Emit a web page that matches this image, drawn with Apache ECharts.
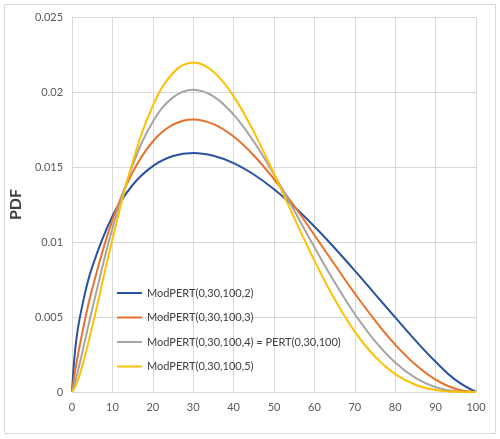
<!DOCTYPE html>
<html>
<head>
<meta charset="utf-8">
<script src="https://cdn.jsdelivr.net/npm/echarts@6/dist/echarts.min.js"></script>
<style>
  html, body { margin: 0; padding: 0; background: #fff; }
  #chart { width: 500px; height: 439px; }
</style>
</head>
<body>
<div id="chart"></div>
<script>
// x positions read along the horizontal axis
const xValues = [0, 1, 2.5, 5, 10, 15, 20, 25, 30, 35, 40, 45, 50, 55, 60, 65, 70, 75, 80, 85, 90, 95, 100];

// PDF values
const pdfGamma2 = [0, 0.00336, 0.00571, 0.00834, 0.01172, 0.01380, 0.01506, 0.01573, 0.01594, 0.01575, 0.01526, 0.01450, 0.01352, 0.01235, 0.01103, 0.00960, 0.00809, 0.00653, 0.00497, 0.00344, 0.00202, 0.00079, 0];
const pdfGamma3 = [0, 0.00176, 0.00389, 0.00688, 0.01146, 0.01464, 0.01670, 0.01782, 0.01817, 0.01786, 0.01703, 0.01577, 0.01419, 0.01240, 0.01047, 0.00850, 0.00657, 0.00477, 0.00316, 0.00183, 0.00082, 0.00020, 0];
const pdfGamma4 = [0, 0.00090, 0.00258, 0.00552, 0.01090, 0.01511, 0.01801, 0.01964, 0.02015, 0.01971, 0.01849, 0.01669, 0.01450, 0.01210, 0.00966, 0.00732, 0.00520, 0.00339, 0.00196, 0.00094, 0.00032, 0.00005, 0];
const pdfGamma5 = [0, 0.00045, 0.00169, 0.00435, 0.01018, 0.01532, 0.01907, 0.02127, 0.02196, 0.02135, 0.01971, 0.01734, 0.01455, 0.01161, 0.00876, 0.00619, 0.00403, 0.00236, 0.00119, 0.00048, 0.00013, 0.00001, 0];

const seriesNames = [
  'ModPERT(0,30,100,2)',
  'ModPERT(0,30,100,3)',
  'ModPERT(0,30,100,4) = PERT(0,30,100)',
  'ModPERT(0,30,100,5)'
];
const seriesColors = ['#2a52a0', '#e8722c', '#a5a5a5', '#ffc000'];
const seriesValues = [pdfGamma2, pdfGamma3, pdfGamma4, pdfGamma5];

const xTicks = { min: 0, max: 100, interval: 10 };
const yTicks = { min: 0, max: 0.025, interval: 0.005 };

const myChart = echarts.init(document.getElementById('chart'));

const font = 'Lato, "Open Sans", sans-serif';

const option = {
  animation: false,
  backgroundColor: '#fff',
  graphic: [{
    type: 'rect',
    shape: { x: 4.5, y: 4.5, width: 491, height: 429 },
    style: { fill: 'none', stroke: '#d9d9d9', lineWidth: 1 },
    silent: true
  }],
  grid: { left: 52, right: 24, top: 17, bottom: 47 },
  legend: {
    orient: 'vertical',
    left: 117,
    top: 286,
    padding: 0,
    itemWidth: 25,
    itemHeight: 2,
    itemGap: 10.5,
    icon: 'rect',
    data: seriesNames,
    textStyle: { fontFamily: font, fontSize: 11, color: '#404040', lineHeight: 14 }
  },
  xAxis: {
    type: 'value',
    min: xTicks.min,
    max: xTicks.max,
    interval: xTicks.interval,
    axisLine: { show: true, lineStyle: { color: '#d9d9d9' } },
    axisTick: { show: false },
    axisLabel: { fontFamily: font, fontSize: 11, color: '#595959', margin: 10 },
    splitLine: { show: true, lineStyle: { color: '#d9d9d9' } }
  },
  yAxis: {
    type: 'value',
    min: yTicks.min,
    max: yTicks.max,
    interval: yTicks.interval,
    name: 'PDF',
    nameLocation: 'middle',
    nameGap: 22,
    nameRotate: 90,
    nameTextStyle: { fontFamily: font, fontSize: 16, fontWeight: 'bold', color: '#404040' },
    axisLine: { show: true, lineStyle: { color: '#d9d9d9' } },
    axisTick: { show: false },
    axisLabel: { fontFamily: font, fontSize: 11, color: '#595959', margin: 9 },
    splitLine: { show: true, lineStyle: { color: '#d9d9d9' } }
  },
  series: seriesValues.map((vals, i) => ({
    name: seriesNames[i],
    type: 'line',
    smooth: 0.4,
    showSymbol: false,
    symbol: 'none',
    data: xValues.map((x, j) => [x, vals[j]]),
    lineStyle: { width: 2, color: seriesColors[i] },
    itemStyle: { color: seriesColors[i] }
  }))
};

option && myChart.setOption(option);
</script>
</body>
</html>
